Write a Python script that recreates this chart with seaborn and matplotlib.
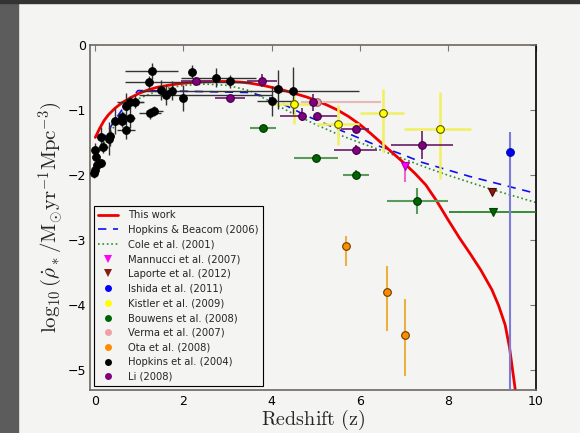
import numpy as np
import pandas as pd
import seaborn as sns
import matplotlib
matplotlib.use("Agg")
import matplotlib.pyplot as plt
from matplotlib.lines import Line2D
from matplotlib.patches import Rectangle

# ---------------- data ----------------
# Curves
red_z = [0.0, 0.1, 0.2, 0.3, 0.45, 0.6, 0.8, 1.0, 1.2, 1.4, 1.65, 1.9, 2.2, 2.5, 2.8, 3.0, 3.3, 3.5, 3.8, 4.0, 4.3, 4.5, 4.8, 5.0, 5.25, 5.5, 5.75, 6.0, 6.25, 6.5, 6.75, 7.0, 7.25, 7.5, 7.75, 8.0, 8.25, 8.5, 8.75, 9.0, 9.15, 9.3, 9.4, 9.5, 9.56]
red_y = [-1.42, -1.28, -1.16, -1.07, -0.97, -0.89, -0.81, -0.74, -0.69, -0.65, -0.62, -0.595, -0.575, -0.565, -0.56, -0.56, -0.57, -0.585, -0.62, -0.65, -0.70, -0.74, -0.80, -0.85, -0.92, -1.00, -1.10, -1.22, -1.36, -1.51, -1.66, -1.81, -1.97, -2.15, -2.40, -2.68, -2.95, -3.20, -3.46, -3.76, -4.00, -4.30, -4.65, -5.15, -5.45]

hb_z = [0.0, 0.2, 0.4, 0.6, 0.8, 0.97, 2.0, 3.5, 4.0, 4.8, 5.6, 6.3, 7.0, 7.4, 8.5, 10.0]
hb_y = [-1.70, -1.43, -1.20, -1.00, -0.83, -0.70, -0.71, -0.73, -0.82, -1.09, -1.32, -1.52, -1.69, -1.80, -2.02, -2.28]

cole_z = [0.0, 0.3, 0.6, 1.0, 1.5, 2.0, 2.5, 3.0, 3.5, 4.0, 4.5, 5.0, 5.5, 6.0, 6.5, 7.0, 7.5, 8.0, 8.5, 9.0, 9.5, 10.0]
cole_y = [-1.75, -1.38, -1.08, -0.82, -0.68, -0.62, -0.60, -0.62, -0.70, -0.88, -1.06, -1.22, -1.37, -1.50, -1.62, -1.75, -1.88, -2.00, -2.11, -2.22, -2.32, -2.42]

# Hopkins et al. (2004) - black
hop_z   = [0.00, 0.01, 0.03, 0.00, -0.02, 0.13, 0.13, 0.18, 0.30, 0.33, 0.45, 0.60, 0.60, 0.69, 0.79, 0.69, 0.79, 0.90, 1.24, 1.34, 1.28, 1.23, 1.49, 1.60, 1.73, 2.00, 2.20, 2.74, 3.05, 4.00, 4.14, 4.49]
hop_y   = [-1.62, -1.72, -1.84, -1.92, -1.97, -1.82, -1.41, -1.56, -1.44, -1.40, -1.17, -1.11, -1.16, -1.30, -1.12, -0.93, -0.88, -0.87, -1.05, -1.01, -0.40, -0.57, -0.69, -0.77, -0.70, -0.82, -0.41, -0.50, -0.56, -0.86, -0.68, -0.70]
hop_xlo = [0.0, 0.0, 0.0, 0.0, 0.0, 0.1, 0.1, 0.1, 0.0, 0.1, 0.0, 0.0, 0.0, 0.2, 0.1, 0.0, 0.3, 0.2, 0.25, 0.2, 0.6, 0.55, 0.0, 0.6, 0.0, 0.0, 0.0, 0.8, 0.0, 0.34, 0.0, 3.5]
hop_xhi = [0.0, 0.0, 0.0, 0.0, 0.0, 0.1, 0.1, 0.1, 0.0, 0.1, 0.0, 0.0, 0.0, 0.2, 0.1, 0.0, 0.3, 0.2, 0.25, 0.2, 0.6, 2.3, 0.0, 2.4, 0.0, 0.0, 0.0, 0.9, 0.0, 0.5, 0.0, 1.5]
hop_ylo = [0.12, 0.10, 0.15, 0.10, 0.08, 0.05, 0.15, 0.10, 0.25, 0.15, 0.20, 0.10, 0.10, 0.15, 0.15, 0.20, 0.10, 0.10, 0.08, 0.08, 0.12, 0.10, 0.15, 0.15, 0.15, 0.20, 0.10, 0.15, 0.10, 0.23, 0.30, 0.36]
hop_yhi = [0.12, 0.10, 0.15, 0.10, 0.08, 0.05, 0.15, 0.10, 0.25, 0.15, 0.20, 0.10, 0.10, 0.15, 0.15, 0.20, 0.10, 0.10, 0.08, 0.08, 0.12, 0.10, 0.15, 0.15, 0.15, 0.20, 0.10, 0.15, 0.10, 0.23, 0.30, 0.36]

# Li (2008) - purple
li_z   = [2.29, 3.05, 3.79, 4.70, 5.02, 4.93, 5.91, 5.91, 7.42]
li_y   = [-0.56, -0.82, -0.55, -1.09, -1.09, -0.88, -1.29, -1.61, -1.53]
li_xlo = [0.35, 0.33, 0.34, 0.50, 0.0, 0.0, 0.34, 0.49, 0.72]
li_xhi = [0.35, 0.35, 0.34, 0.0, 0.47, 0.0, 0.30, 0.49, 0.70]
li_ylo = [0.06, 0.05, 0.10, 0.08, 0.05, 0.13, 0.05, 0.08, 0.22]
li_yhi = [0.06, 0.05, 0.10, 0.12, 0.05, 0.12, 0.05, 0.08, 0.21]

# Kistler et al. (2009) - yellow
ki_z   = [4.51, 5.51, 6.52, 7.82]
ki_y   = [-0.91, -1.21, -1.04, -1.29]
ki_xlo = [0.49, 0.49, 0.51, 0.81]
ki_xhi = [0.49, 0.47, 0.49, 0.70]
ki_ylo = [0.31, 0.33, 0.61, 0.77]
ki_yhi = [0.15, 0.29, 0.36, 0.57]

# Bouwens et al. (2008) - green
bo_z   = [3.80, 5.01, 5.91, 7.31]
bo_y   = [-1.28, -1.74, -1.99, -2.39]
bo_xlo = [0.29, 0.50, 0.30, 0.70]
bo_xhi = [0.29, 0.50, 0.30, 0.70]
bo_ylo = [0.0, 0.0, 0.07, 0.21]
bo_yhi = [0.0, 0.0, 0.07, 0.20]
bo_lim_z, bo_lim_y, bo_lim_xlo, bo_lim_xhi = [9.02], [-2.56], [1.0], [1.2]

# Verma et al. (2007) - pink
ve_z, ve_y, ve_xlo, ve_xhi = [5.02], [-0.88], [0.35], [1.46]

# Ota et al. (2008) - orange
ota_z   = [5.70, 6.61, 7.02]
ota_y   = [-3.09, -3.80, -4.45]
ota_ylo = [0.31, 0.60, 0.64]
ota_yhi = [0.15, 0.41, 0.55]

# Mannucci et al. (2007) - magenta triangle
ma_z, ma_y, ma_ylo, ma_yhi = [7.02], [-1.86], [0.25], [0.06]
# Laporte et al. (2012) - dark red triangle
la_z, la_y = [9.0], [-2.26]
# Ishida et al. (2011) - blue
is_z, is_y, is_ylo, is_yhi = [9.42], [-1.64], [5.0], [0.31]

legend_labels = ["This work", "Hopkins & Beacom (2006)", "Cole et al. (2001)",
                 "Mannucci et al. (2007)", "Laporte et al. (2012)", "Ishida et al. (2011)",
                 "Kistler et al. (2009)", "Bouwens et al. (2008)", "Verma et al. (2007)",
                 "Ota et al. (2008)", "Hopkins et al. (2004)", "Li (2008)"]
xticks = [0, 2, 4, 6, 8, 10]
yticks = [0, -1, -2, -3, -4, -5]

# ---------------- style ----------------
sns.set_theme(style="white")
BG = "#f4f4f2"
plt.rcParams["font.family"] = ["DejaVu Sans"]
plt.rcParams["mathtext.fontset"] = "cm"

fig = plt.figure(figsize=(5.8, 4.33), dpi=100)
fig.patch.set_facecolor(BG)
fig.patches.append(Rectangle((0, 0), 18 / 580, 1, transform=fig.transFigure,
                             color="#5c5c5c", zorder=0))
fig.patches.append(Rectangle((0, 1 - 2.5 / 433), 1, 2.5 / 433, transform=fig.transFigure,
                             color="#333333", zorder=0))

ax = fig.add_axes([90 / 580, 1 - 390 / 433, 446 / 580, 345 / 433])
ax.set_facecolor(BG)

# curves
sns.lineplot(x=cole_z, y=cole_y, ax=ax, color="#2e8b2e", lw=1.2, linestyle=":",
             sort=False, estimator=None, zorder=2)
sns.lineplot(x=hb_z, y=hb_y, ax=ax, color="#1010ee", lw=1.2, dashes=False,
             sort=False, estimator=None, zorder=2, linestyle=(0, (5, 4)))
sns.lineplot(x=red_z, y=red_y, ax=ax, color="#ee0000", lw=2.0,
             sort=False, estimator=None, zorder=2.5)


def eb(z, y, xlo, xhi, ylo, yhi, mfc, mec, ecol, marker="o", ms=5.5, elw=1.2, zo=3):
    ax.errorbar(z, y, xerr=[xlo, xhi] if xlo is not None else None,
                yerr=[ylo, yhi] if ylo is not None else None,
                fmt=marker, mfc=mfc, mec=mec, mew=0.8, ms=ms, ecolor=ecol,
                elinewidth=elw, capsize=0, zorder=zo)


eb(bo_lim_z, bo_lim_y, bo_lim_xlo, bo_lim_xhi, None, None, "#006400", "#004000", "#1a7a1a",
   marker="v", ms=6)
eb(is_z, is_y, None, None, is_ylo, is_yhi, "#0000ff", "#0000aa", "#7b7bd8", elw=1.5)
eb(ota_z, ota_y, None, None, ota_ylo, ota_yhi, "#ff8c00", "#6b3b00", "#eab040", elw=1.5)
eb(bo_z, bo_y, bo_xlo, bo_xhi, bo_ylo, bo_yhi, "#006400", "#003300", "#5a9a5a", elw=1.5)
eb(ki_z, ki_y, ki_xlo, ki_xhi, ki_ylo, ki_yhi, "#ffff00", "#555500", "#f0f060", elw=1.8)
eb(ve_z, ve_y, ve_xlo, ve_xhi, None, None, "#f0a0a8", "#a06068", "#e8b8b8", elw=1.5)
eb(hop_z, hop_y, hop_xlo, hop_xhi, hop_ylo, hop_yhi, "#000000", "#000000", "#333333", elw=1.0)
eb(li_z, li_y, li_xlo, li_xhi, li_ylo, li_yhi, "#800080", "#400040", "#6a1a6a", elw=1.2)
eb(ma_z, ma_y, None, None, ma_ylo, ma_yhi, "#ff00ff", "#aa00aa", "#ee66cc", marker="v", ms=6, elw=1.5)
eb(la_z, la_y, None, None, None, None, "#8b1a10", "#4a0a00", "#8b1a10", marker="v", ms=6)

# axes
ax.set_xlim(-0.12, 10)
ax.set_ylim(-5.3, 0)
ax.set_xticks(xticks)
ax.set_yticks(yticks)
ax.set_xticklabels([str(t) for t in xticks])
ax.set_yticklabels(["0" if t == 0 else "\u2212" + str(-t) for t in yticks])
ax.tick_params(direction="in", top=True, right=True, length=4, width=0.8,
               labelsize=9, colors="#000000")
ax.tick_params(axis="x", pad=3.5, color="#777777")
ax.tick_params(axis="y", pad=2.5, color="#777777")
for side in ["left", "top", "bottom"]:
    ax.spines[side].set_color("#6e6660")
    ax.spines[side].set_linewidth(1.2)
ax.spines["right"].set_color("#000000")
ax.spines["right"].set_linewidth(1.2)

ax.set_xlabel(r"$\mathrm{Redshift\ (z)}$", fontsize=14.5)
ax.set_ylabel(r"$\log_{10}(\dot{\rho}_*/\mathrm{M}_{\odot}\mathrm{yr}^{-1}\mathrm{Mpc}^{-3})$",
              fontsize=15)
ax.xaxis.set_label_coords(0.5, -0.052)
ax.yaxis.set_label_coords(-0.056, 0.5)

# legend
handles = [
    Line2D([], [], color="#ee0000", lw=2.0),
    Line2D([], [], color="#1010ee", lw=1.2, linestyle=(0, (5, 4))),
    Line2D([], [], color="#2e8b2e", lw=1.2, linestyle=":"),
    Line2D([], [], ls="none", marker="v", ms=6, mfc="#ff00ff", mew=0),
    Line2D([], [], ls="none", marker="v", ms=6, mfc="#8b1a10", mew=0),
    Line2D([], [], ls="none", marker="o", ms=5, mfc="#0000ff", mew=0),
    Line2D([], [], ls="none", marker="o", ms=5, mfc="#ffff00", mew=0),
    Line2D([], [], ls="none", marker="o", ms=5, mfc="#006400", mew=0),
    Line2D([], [], ls="none", marker="o", ms=5, mfc="#f0a0a8", mew=0),
    Line2D([], [], ls="none", marker="o", ms=5, mfc="#ff8c00", mew=0),
    Line2D([], [], ls="none", marker="o", ms=5, mfc="#000000", mew=0),
    Line2D([], [], ls="none", marker="o", ms=5, mfc="#800080", mew=0),
]
leg = ax.legend(handles, legend_labels, loc="lower left", bbox_to_anchor=(0.009, 0.012),
                borderaxespad=0, fontsize=7.2, labelspacing=0.47, handlelength=2.0,
                handletextpad=1.0, numpoints=1, frameon=True, fancybox=False,
                framealpha=1, facecolor=BG, edgecolor="#000000", borderpad=0.4)
leg.get_frame().set_linewidth(0.8)

fig.savefig("out.png", dpi=100, facecolor=fig.get_facecolor())
